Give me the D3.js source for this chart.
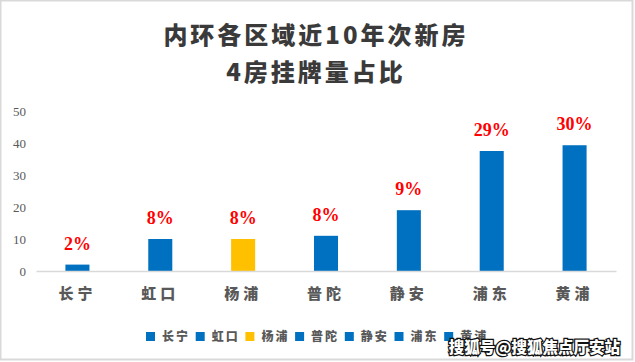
<!DOCTYPE html>
<html>
<head>
<meta charset="utf-8">
<script src="https://cdn.jsdelivr.net/npm/d3@7/dist/d3.min.js"></script>
<style>
  html, body { margin: 0; padding: 0; background: #fff; }
  svg { display: block; }
</style>
</head>
<body>
<div id="chart"></div>
<script>
// data
var districts = ["长宁", "虹口", "杨浦", "普陀", "静安", "浦东", "黄浦"];
var listings = [2, 10, 10, 11, 19, 37.5, 39.3];
var shareLabels = ["2%", "8%", "8%", "8%", "9%", "29%", "30%"];
var barColors = ["#0070C0", "#0070C0", "#FFC000", "#0070C0", "#0070C0", "#0070C0", "#0070C0"];
var yTicks = [0, 10, 20, 30, 40, 50];
var titleLines = ["内环各区域近10年次新房", "4房挂牌量占比"];

var width = 635, height = 362;
var cjk = "'Noto Sans CJK SC', 'Noto Sans', sans-serif";
var serif = "'Liberation Serif', 'DejaVu Serif', serif";

var svg = d3.select("#chart").append("svg")
  .attr("width", width)
  .attr("height", height);

// frame
svg.append("rect")
  .attr("x", 0.5).attr("y", 0.5)
  .attr("width", 632).attr("height", 359)
  .attr("fill", "#fff")
  .attr("stroke", "#d9d9d9")
  .attr("stroke-width", 2);

// title
svg.append("g").selectAll("text")
  .data(titleLines)
  .enter()
  .append("text")
  .attr("x", 316)
  .attr("y", (d, i) => 44 + i * 37)
  .attr("text-anchor", "middle")
  .attr("fill", "#3a3a3a")
  .style("font-family", cjk)
  .style("font-weight", 900)
  .style("font-size", "24px")
  .style("letter-spacing", "3px")
  .text(d => d);

const x = d3.scaleBand()
  .domain(districts)
  .range([36, 616])
  .paddingInner(0.71)
  .paddingOuter(0.355);
const y = d3.scaleLinear()
  .domain([0, 50])
  .range([271, 111]);

// y tick labels (no axis line in the original)
svg.append("g").selectAll("text")
  .data(yTicks)
  .enter()
  .append("text")
  .attr("x", 26)
  .attr("y", d => y(d))
  .attr("dy", "0.35em")
  .attr("text-anchor", "end")
  .attr("fill", "#595959")
  .style("font-family", serif)
  .style("font-size", "13px")
  .text(d => d);

// bars
svg.append("g").selectAll("rect")
  .data(listings)
  .enter()
  .append("rect")
  .attr("x", (d, i) => x(districts[i]))
  .attr("y", d => y(d))
  .attr("width", x.bandwidth())
  .attr("height", d => y(0) - y(d))
  .attr("fill", (d, i) => barColors[i]);

// x axis
const xAxis = svg.append("g")
  .attr("transform", "translate(0," + y(0) + ")")
  .call(d3.axisBottom(x).tickSize(0).tickPadding(17));
xAxis.select(".domain").attr("stroke", "#d9d9d9").attr("stroke-width", 1.5);
xAxis.selectAll("text")
  .attr("fill", "#595959")
  .style("font-family", cjk)
  .style("font-weight", 900)
  .style("font-size", "15px")
  .style("letter-spacing", "4px");

// value labels
svg.append("g").selectAll("text")
  .data(listings)
  .enter()
  .append("text")
  .attr("x", (d, i) => x(districts[i]) + x.bandwidth() / 2)
  .attr("y", d => y(d) - 15)
  .attr("text-anchor", "middle")
  .attr("fill", "#ff0000")
  .style("font-family", serif)
  .style("font-weight", "bold")
  .style("font-size", "18px")
  .text((d, i) => shareLabels[i]);

// legend
const legend = svg.append("g").selectAll("g")
  .data(districts)
  .enter()
  .append("g")
  .attr("transform", (d, i) => "translate(" + (146 + i * 49.7) + ",332)");
legend.append("rect")
  .attr("width", 9)
  .attr("height", 9)
  .attr("fill", (d, i) => barColors[i]);
legend.append("text")
  .attr("x", 16)
  .attr("y", 5)
  .attr("dy", "0.35em")
  .attr("fill", "#595959")
  .style("font-family", cjk)
  .style("font-weight", 900)
  .style("font-size", "12px")
  .style("letter-spacing", "2px")
  .text(d => d);

// watermark
svg.append("text")
  .attr("x", 620)
  .attr("y", 353)
  .attr("text-anchor", "end")
  .attr("fill", "#fff")
  .attr("stroke", "#111")
  .attr("stroke-width", 2.5)
  .attr("paint-order", "stroke")
  .style("font-family", cjk)
  .style("font-weight", 900)
  .style("font-size", "15.5px")
  .text("搜狐号@搜狐焦点厅安站");
</script>
</body>
</html>
